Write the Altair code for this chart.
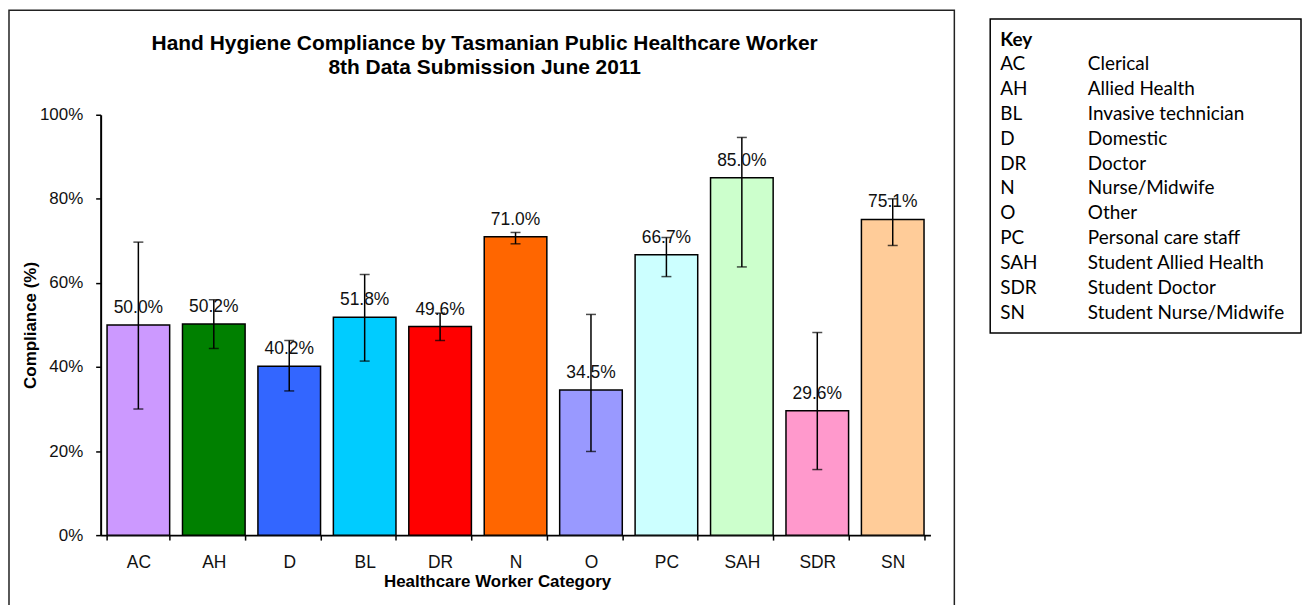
import altair as alt
import pandas as pd

# ---- data ----
categories = ["AC", "AH", "D", "BL", "DR", "N", "O", "PC", "SAH", "SDR", "SN"]
compliance = [50.0, 50.2, 40.2, 51.8, 49.6, 71.0, 34.5, 66.7, 85.0, 29.6, 75.1]
ci_lower = [30.0, 44.4, 34.3, 41.4, 46.3, 69.3, 19.9, 61.5, 63.8, 15.6, 68.9]
ci_upper = [69.7, 56.0, 46.3, 62.0, 52.8, 72.0, 52.5, 70.8, 94.6, 48.2, 80.0]
bar_colors = ["#CC99FF", "#008000", "#3366FF", "#00CCFF", "#FF0000", "#FF6600",
              "#9999FF", "#CCFFFF", "#CCFFCC", "#FF99CC", "#FFCC99"]
y_ticks = [0, 0.2, 0.4, 0.6, 0.8, 1.0]

key_abbr = ["AC", "AH", "BL", "D", "DR", "N", "O", "PC", "SAH", "SDR", "SN"]
key_desc = ["Clerical", "Allied Health", "Invasive technician", "Domestic", "Doctor",
            "Nurse/Midwife", "Other", "Personal care staff", "Student Allied Health",
            "Student Doctor", "Student Nurse/Midwife"]

title_lines = ["Hand Hygiene  Compliance  by  Tasmanian  Public Healthcare  Worker",
               "8th  Data  Submission  June  2011"]

df = pd.DataFrame({
    "cat": categories,
    "val": [v / 100 for v in compliance],
    "lo": [v / 100 for v in ci_lower],
    "hi": [v / 100 for v in ci_upper],
    "color": bar_colors,
    "label": [f"{v:.1f}%" for v in compliance],
})

FONT = "Liberation Sans"
KFONT = "Lato"
W, H = 949, 600

xscale = alt.Scale(range=[92, 925], paddingInner=0.17, paddingOuter=0.085)
yscale = alt.Scale(domain=[0, 1], range=[527, 105])

x_axis = alt.Axis(
    title="Healthcare Worker Category", labelAngle=0, orient="bottom", offset=-73,
    tickBand="extent", tickSize=5, tickColor="black", tickWidth=1.5,
    domainColor="black", domainWidth=2, labelFont=FONT, labelFontSize=17.5,
    labelColor="#111", labelPadding=28, labelBaseline="alphabetic",
    titleFont=FONT, titleFontSize=17, titleFontWeight="bold", titleColor="black",
    titleX=490, titleY=52, titleBaseline="alphabetic", grid=False,
)
y_axis = alt.Axis(
    title="Compliance (%)", format=".0%", values=y_ticks, orient="left", offset=-92,
    tickSize=5, tickColor="black", tickWidth=1.5, domainColor="black", domainWidth=2,
    labelFont=FONT, labelFontSize=17, labelColor="#111", labelPadding=13,
    titleFont=FONT, titleFontSize=17, titleFontWeight="bold", titleColor="black",
    titleX=-70, titleY=316, titleBaseline="middle", grid=False,
)

xenc = alt.X("cat:N", sort=categories, scale=xscale, axis=x_axis)
base = alt.Chart(df)

bars = base.mark_bar(stroke="black", strokeWidth=1.5).encode(
    x=xenc,
    y=alt.Y("val:Q", scale=yscale, axis=y_axis),
    color=alt.Color("color:N", scale=None),
)
labels = base.mark_text(baseline="bottom", dy=-8, font=FONT, fontSize=17.5, color="#111").encode(
    x=xenc, y=alt.Y("val:Q", scale=yscale), text="label:N"
)
err = base.mark_rule(color="black", strokeWidth=1.5).encode(
    x=xenc, y=alt.Y("lo:Q", scale=yscale), y2="hi:Q"
)
cap_lo = base.mark_tick(orient="horizontal", size=10, thickness=1.5, color="black").encode(
    x=xenc, y=alt.Y("lo:Q", scale=yscale)
)
cap_hi = base.mark_tick(orient="horizontal", size=10, thickness=1.5, color="black").encode(
    x=xenc, y=alt.Y("hi:Q", scale=yscale)
)

main = alt.layer(bars, err, cap_lo, cap_hi, labels).properties(
    width=W, height=H,
    title=alt.TitleParams(
        text=title_lines, font=FONT, fontSize=21, fontWeight="bold", color="black",
        anchor="middle", frame="group", orient="top", offset=-68, baseline="top",
        lineHeight=24, dx=3,
    ),
    view=alt.ViewBackground(stroke="#222", strokeWidth=1.5),
)

# ---- key box ----
KTOP = 9  # key frame sits a little lower than the chart frame
kdf = pd.DataFrame({"abbr": key_abbr, "desc": key_desc})
ky = alt.Y("abbr:N", sort=key_abbr,
           scale=alt.Scale(type="point", range=[KTOP + 45, KTOP + 295], padding=0), axis=None)
kbase = alt.Chart(kdf)
k_frame = alt.Chart(pd.DataFrame({"f": [0]})).mark_rect(
    fill="transparent", stroke="black", strokeWidth=1.5
).encode(x=alt.value(0), x2=alt.value(312), y=alt.value(KTOP), y2=alt.value(KTOP + 315))
k_abbr = kbase.mark_text(align="left", baseline="middle", font=KFONT, fontSize=19, color="black").encode(
    x=alt.value(10), y=ky, text="abbr:N"
)
k_desc = kbase.mark_text(align="left", baseline="middle", font=KFONT, fontSize=19, color="black").encode(
    x=alt.value(98), y=ky, text="desc:N"
)
k_head = alt.Chart(pd.DataFrame({"t": ["Key"]})).mark_text(
    align="left", baseline="middle", font=KFONT, fontSize=19, fontWeight="bold", color="black"
).encode(x=alt.value(10), y=alt.value(KTOP + 21), text="t:N")

key = alt.layer(k_frame, k_head, k_abbr, k_desc).properties(
    width=312, height=KTOP + 315,
    view=alt.ViewBackground(stroke="transparent"),
)

chart = alt.hconcat(main, key, spacing=33).properties(
    padding=0
).configure(font=FONT)

chart.save("out.html", embed_options={"renderer": "svg", "actions": False})
